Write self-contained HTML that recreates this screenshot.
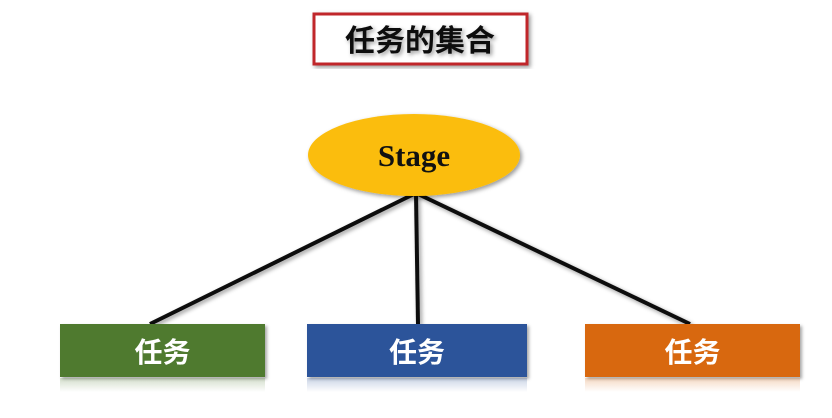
<!DOCTYPE html>
<html><head><meta charset="utf-8"><style>
body{margin:0;width:832px;height:418px;background:#fff;overflow:hidden;position:relative;font-family:"Liberation Sans","Noto Sans CJK SC",sans-serif}
.box{position:absolute;top:324px;height:53px;color:#fff;font-weight:bold;font-size:28px;text-align:center;line-height:58px;box-shadow:2px 2px 3px rgba(0,0,0,.35)}
.refl{position:absolute;top:378px;height:14px;opacity:.25}
</style></head><body>
<svg width="832" height="418" style="position:absolute;left:0;top:0">
<defs><filter id="s"><feDropShadow dx="2" dy="2" stdDeviation="2" flood-opacity=".4"/></filter></defs>
<rect x="314" y="14" width="213" height="50" fill="#fff" stroke="#c0282a" stroke-width="3" filter="url(#s)"/>
<text x="420" y="51" text-anchor="middle" font-size="30" font-weight="bold" font-family="Noto Sans CJK SC,sans-serif" fill="#111" filter="url(#s)">任务的集合</text>
<g stroke="#111" stroke-width="4" filter="url(#s)">
<line x1="414" y1="194" x2="150" y2="324"/>
<line x1="416" y1="194" x2="418" y2="324"/>
<line x1="418" y1="194" x2="690" y2="324"/>
</g>
<ellipse cx="414" cy="155" rx="106" ry="41" fill="#fbbd0c" filter="url(#s)"/>
<text x="414" y="166" text-anchor="middle" font-size="31" font-weight="bold" font-family="Liberation Serif,serif" fill="#111">Stage</text>
</svg>
<div class="box" style="left:60px;width:205px;background:#4f7a2f">任务</div>
<div class="box" style="left:307px;width:220px;background:#2c549a">任务</div>
<div class="box" style="left:585px;width:215px;background:#d8680f">任务</div>
<div class="refl" style="left:60px;width:205px;background:linear-gradient(#4f7a2f,#fff)"></div>
<div class="refl" style="left:307px;width:220px;background:linear-gradient(#2c549a,#fff)"></div>
<div class="refl" style="left:585px;width:215px;background:linear-gradient(#d8680f,#fff)"></div>
</body></html>
